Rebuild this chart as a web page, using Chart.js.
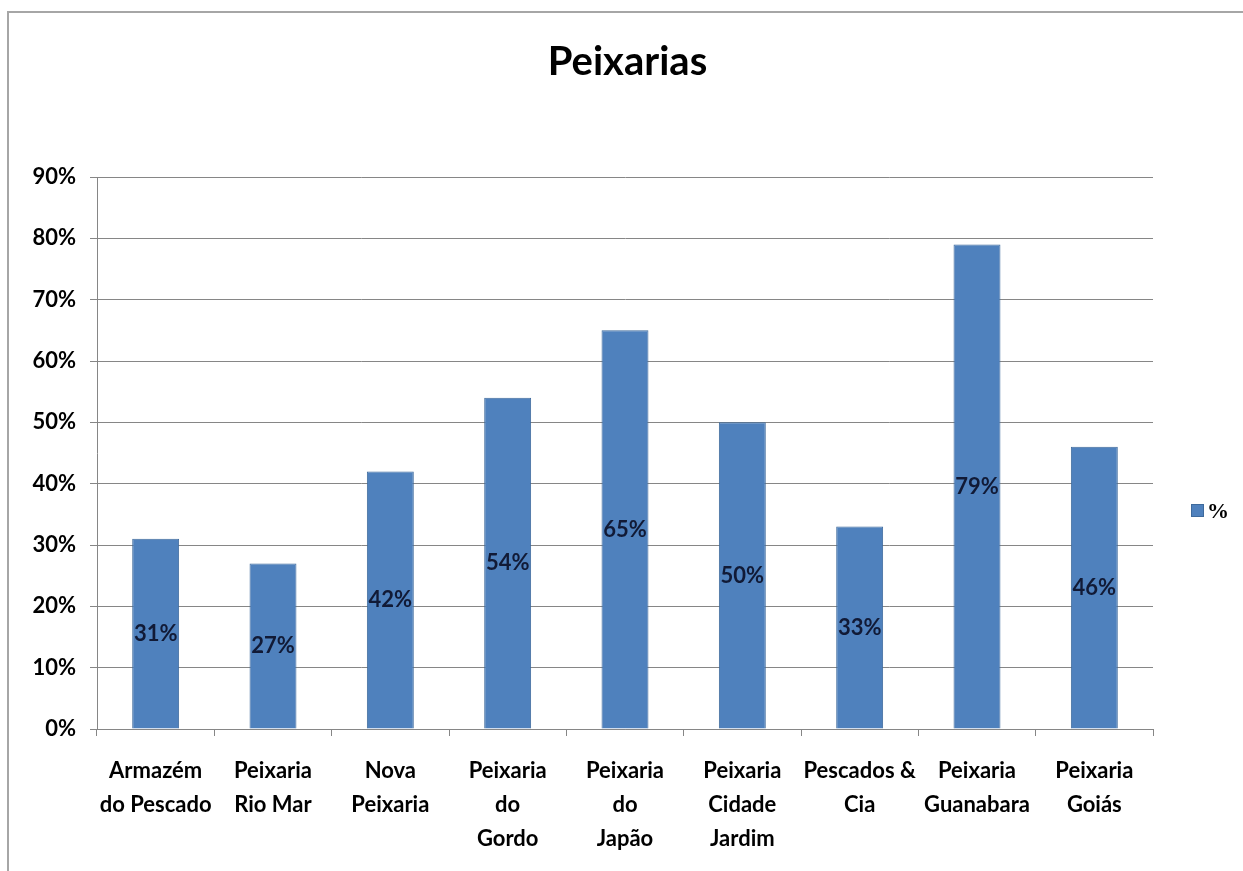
<!DOCTYPE html>
<html>
<head>
<meta charset="utf-8">
<script src="https://cdn.jsdelivr.net/npm/chart.js@4.4.1/dist/chart.umd.min.js"></script>
<style>
  html, body { margin: 0; padding: 0; background: #fff; }
  #wrap { position: relative; width: 1243px; height: 871px; }
  #frame { position: absolute; left: 7px; top: 11px; width: 1240px; height: 870px; border: 2px solid #a6a6a6; pointer-events: none; }
</style>
</head>
<body>
<div id="wrap">
  <canvas id="chart" width="1243" height="871"></canvas>
  <div id="frame"></div>
</div>
<script>
// dados do gráfico
const categorias = [
  ['Armazém', 'do Pescado'],
  ['Peixaria', 'Rio Mar'],
  ['Nova', 'Peixaria'],
  ['Peixaria', 'do', 'Gordo'],
  ['Peixaria', 'do', 'Japão'],
  ['Peixaria', 'Cidade', 'Jardim'],
  ['Pescados &', 'Cia'],
  ['Peixaria', 'Guanabara'],
  ['Peixaria', 'Goiás']
];
const percentuais = [31, 27, 42, 54, 65, 50, 33, 79, 46];
const serieNome = '%';
const tituloTexto = 'Peixarias';
const yMin = 0, yMax = 90, yPasso = 10;

const fonte = 'Lato, "Open Sans", sans-serif';
const azul = '#4f81bd';
const cinza = '#868686';

// rótulos dentro das barras
const rotulosBarras = {
  id: 'rotulosBarras',
  afterDatasetsDraw(chart) {
    const ctx = chart.ctx;
    const meta = chart.getDatasetMeta(0);
    ctx.save();
    ctx.font = 'bold 22px ' + fonte;
    ctx.fillStyle = '#111a36';
    ctx.textAlign = 'center';
    ctx.textBaseline = 'middle';
    meta.data.forEach((bar, i) => {
      const v = chart.data.datasets[0].data[i];
      ctx.fillText(v + '%', bar.x, (bar.y + bar.base) / 2);
    });
    ctx.restore();
  }
};

// legenda estilo Excel à direita
const legendaDireita = {
  id: 'legendaDireita',
  afterDraw(chart) {
    const ctx = chart.ctx;
    const ds = chart.data.datasets[0];
    const x = chart.chartArea.right + 38, y = 511;
    ctx.save();
    ctx.fillStyle = ds.backgroundColor;
    ctx.strokeStyle = ds.borderColor;
    ctx.lineWidth = 1;
    ctx.fillRect(x, y - 7, 13, 13);
    ctx.strokeRect(x + 0.5, y - 6.5, 12, 12);
    ctx.font = 'bold 22px "Liberation Serif", serif';
    ctx.fillStyle = '#000';
    ctx.textBaseline = 'middle';
    ctx.fillText(ds.label, x + 16, y + 1);
    ctx.restore();
  }
};

new Chart(document.getElementById('chart'), {
  type: 'bar',
  data: {
    labels: categorias,
    datasets: [{
      label: serieNome,
      data: percentuais,
      backgroundColor: azul,
      borderColor: '#3e6a9c',
      borderWidth: 1,
      categoryPercentage: 1,
      barPercentage: 0.4
    }]
  },
  options: {
    responsive: false,
    animation: false,
    layout: { padding: { left: 12, right: 0, top: 0, bottom: 0 } },
    plugins: {
      legend: { display: false },
      tooltip: { enabled: false },
      title: {
        display: true,
        text: tituloTexto,
        color: '#000',
        font: { family: fonte, size: 40, weight: 'bold', lineHeight: 1.2 },
        padding: { top: 38, bottom: 91 }
      }
    },
    scales: {
      x: {
        grid: { drawOnChartArea: false, drawTicks: true, tickLength: 7, color: cinza, offset: true },
        border: { color: cinza, width: 1 },
        ticks: { color: '#000', font: { family: fonte, size: 22, weight: 'bold', lineHeight: 1.55 }, padding: 18, maxRotation: 0, autoSkip: false },
        afterFit(scale) { scale.height = 142; }
      },
      y: {
        min: yMin,
        max: yMax,
        grid: { color: cinza, tickLength: 7 },
        border: { color: cinza, width: 1 },
        ticks: {
          stepSize: yPasso,
          color: '#000',
          font: { family: fonte, size: 22, weight: 'bold' },
          padding: 14,
          callback: v => v + '%'
        },
        afterFit(scale) { scale.width = 85; }
      },
      // espaço reservado para a legenda à direita
      yLegenda: {
        position: 'right',
        min: yMin,
        max: yMax,
        grid: { drawOnChartArea: false, drawTicks: false },
        border: { display: false },
        ticks: { display: false },
        afterFit(scale) { scale.width = 90; }
      }
    }
  },
  plugins: [rotulosBarras, legendaDireita]
});
</script>
</body>
</html>
